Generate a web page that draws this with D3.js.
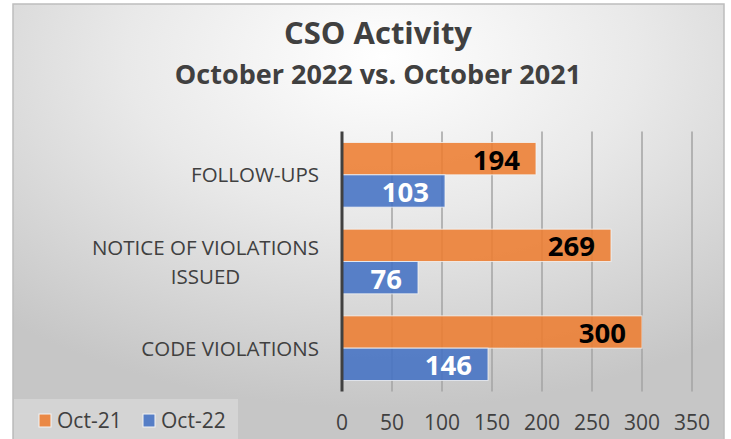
<!DOCTYPE html>
<html>
<head>
<meta charset="utf-8">
<script src="https://cdn.jsdelivr.net/npm/d3@7"></script>
<style>
  html, body { margin: 0; padding: 0; background: #fff; }
  svg { display: block; font-family: "Open Sans", sans-serif; }
</style>
</head>
<body>
<svg id="chart"></svg>
<script>
  // chart data
  const categories = ["FOLLOW-UPS", "NOTICE OF VIOLATIONS ISSUED", "CODE VIOLATIONS"];
  const seriesNames = ["Oct-21", "Oct-22"];
  const oct21 = [194, 269, 300];
  const oct22 = [103, 76, 146];
  const xTicks = [0, 50, 100, 150, 200, 250, 300, 350];
  const colors = ["#ED7D31", "#4472C4"];
  const labelColors = ["#000000", "#ffffff"];

  const W = 731, H = 439;
  const margin = { top: 131.5, bottom: 47.5, left: 342, right: 39 };

  const svg = d3.select('#chart')
    .attr('width', W)
    .attr('height', H);

  // background gradient like the office chart area
  const defs = svg.append('defs');
  const grad = defs.append('radialGradient')
    .attr('id', 'bg')
    .attr('cx', 0.52).attr('cy', 0.12).attr('r', 0.8);
  grad.append('stop').attr('offset', 0).attr('stop-color', '#ffffff');
  grad.append('stop').attr('offset', 0.45).attr('stop-color', '#e9e9e9');
  grad.append('stop').attr('offset', 1).attr('stop-color', '#c6c6c6');

  svg.append('rect')
    .attr('x', 13).attr('y', 4)
    .attr('width', 711).attr('height', 440)
    .attr('fill', 'url(#bg)')
    .attr('stroke', '#bdbdbd')
    .attr('stroke-width', 1.5);

  // titles
  svg.append('text')
    .attr('x', 378).attr('y', 44)
    .attr('text-anchor', 'middle')
    .attr('font-size', 31)
    .attr('font-weight', 700)
    .attr('fill', '#404040')
    .text('CSO Activity');

  svg.append('text')
    .attr('x', 378).attr('y', 84)
    .attr('text-anchor', 'middle')
    .attr('font-size', 27)
    .attr('font-weight', 700)
    .attr('fill', '#404040')
    .text('October 2022 vs. October 2021');

  // scales
  const xscale = d3.scaleLinear()
    .domain([0, 350])
    .range([margin.left, W - margin.right]);

  const yscale = d3.scaleBand()
    .domain(categories)
    .range([margin.top, H - margin.bottom])
    .paddingInner(0.254)
    .paddingOuter(0.127);

  const sscale = d3.scaleBand()
    .domain(seriesNames)
    .range([0, yscale.bandwidth()]);

  const g = svg.append('g');

  // gridlines
  g.append('g').selectAll('line')
    .data(xTicks.slice(1))
    .join('line')
    .attr('x1', (d) => xscale(d)).attr('x2', (d) => xscale(d))
    .attr('y1', margin.top).attr('y2', H - margin.bottom)
    .attr('stroke', '#a3a3a3')
    .attr('stroke-width', 1.5);

  // tick labels
  g.append('g').selectAll('text')
    .data(xTicks)
    .join('text')
    .attr('x', (d) => xscale(d))
    .attr('y', 430)
    .attr('text-anchor', 'middle')
    .attr('font-size', 21)
    .attr('fill', '#404040')
    .text((d) => d);

  // bars
  const rows = categories.map((c, i) => ({
    cat: c,
    values: [oct21[i], oct22[i]]
  }));

  const groups = g.append('g').selectAll('g')
    .data(rows)
    .join('g')
    .attr('transform', (d) => `translate(0,${yscale(d.cat)})`);

  const bars = groups.selectAll('g')
    .data((d) => d.values.map((v, j) => ({ v, j })))
    .join('g');

  bars.append('rect')
    .attr('x', xscale(0))
    .attr('y', (d) => sscale(seriesNames[d.j]))
    .attr('width', (d) => xscale(d.v) - xscale(0))
    .attr('height', sscale.bandwidth())
    .attr('fill', (d) => colors[d.j])
    .attr('fill-opacity', 0.88)
    .attr('stroke', '#f4f4f4')
    .attr('stroke-opacity', 0.8)
    .attr('stroke-width', 1);

  bars.append('text')
    .attr('x', (d) => xscale(d.v) - 16)
    .attr('y', (d) => sscale(seriesNames[d.j]) + sscale.bandwidth() / 2 + 11)
    .attr('text-anchor', 'end')
    .attr('font-size', 27.5)
    .attr('font-weight', 700)
    .attr('fill', (d) => labelColors[d.j])
    .text((d) => d.v);

  // zero axis line
  g.append('line')
    .attr('x1', xscale(0)).attr('x2', xscale(0))
    .attr('y1', margin.top).attr('y2', H - margin.bottom)
    .attr('stroke', '#404040')
    .attr('stroke-width', 3);

  // category labels, wrapped like excel does
  const catG = g.append('g');
  categories.forEach((c) => {
    const lines = c === "NOTICE OF VIOLATIONS ISSUED" ? ["NOTICE OF VIOLATIONS", "ISSUED"] : [c];
    const t = catG.append('text')
      .attr('font-size', 20.5)
      .attr('fill', '#404040')
      .attr('text-anchor', 'middle');
    const spans = lines.map((l) => t.append('tspan').text(l));
    const widest = d3.max(spans, (s) => s.node().getComputedTextLength());
    const cx = 319 - widest / 2;
    const lh = 29;
    const cy = yscale(c) + yscale.bandwidth() / 2;
    const first = cy + 7.5 - (lines.length - 1) * lh / 2;
    spans.forEach((s, i) => s.attr('x', cx).attr('y', first + i * lh));
  });

  // legend
  const leg = svg.append('g');
  leg.append('rect')
    .attr('x', 14).attr('y', 399)
    .attr('width', 224).attr('height', 40)
    .attr('fill', '#ffffff')
    .attr('fill-opacity', 0.25);

  const legX = [39, 143];
  seriesNames.forEach((s, i) => {
    leg.append('rect')
      .attr('x', legX[i]).attr('y', 414)
      .attr('width', 12).attr('height', 13)
      .attr('fill', colors[i])
      .attr('fill-opacity', 0.88)
      .attr('stroke', '#f4f4f4')
      .attr('stroke-width', 1);
    leg.append('text')
      .attr('x', legX[i] + 18).attr('y', 428)
      .attr('font-size', 21)
      .attr('fill', '#404040')
      .text(s);
  });
</script>
</body>
</html>
